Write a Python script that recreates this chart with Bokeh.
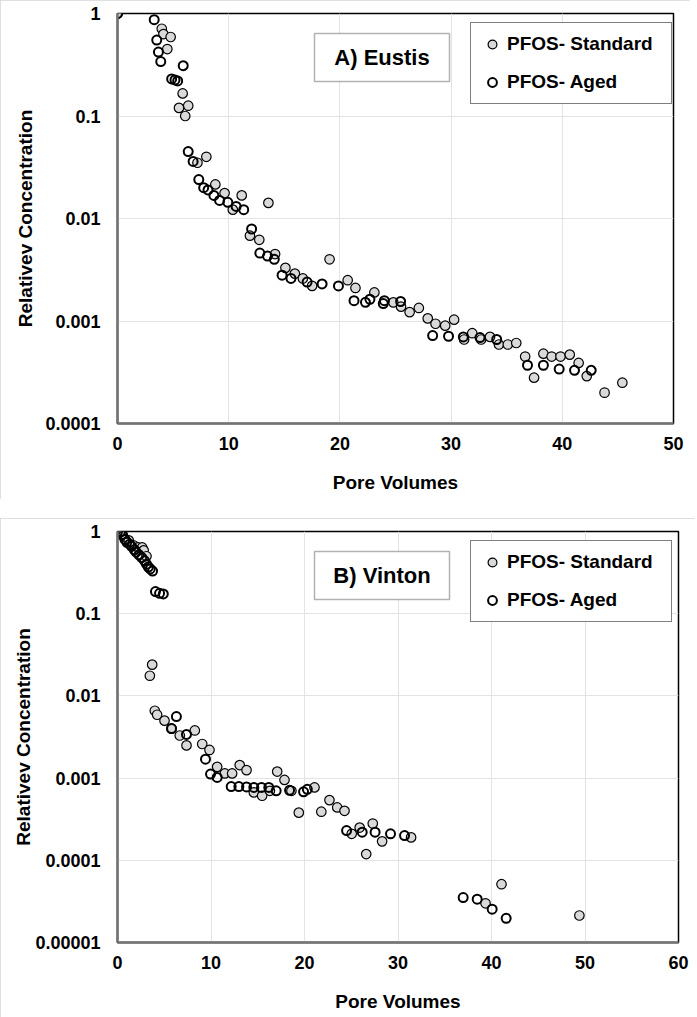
from bokeh.plotting import figure
from bokeh.layouts import column
from bokeh.models import (Range1d, FixedTicker, CustomJSTickFormatter, BoxAnnotation,
                          Label, Legend, LegendItem)
from bokeh.embed import file_html
from bokeh.resources import INLINE

# ---------------- data ----------------
# Panel A) Eustis
eustis_std_x = [0, 3.98, 4.13, 4.78, 4.48, 5.86, 6.36, 5.53, 6.09, 7.19, 7.99, 8.8, 9.63, 10.37,
                11.17, 13.57, 11.91, 12.75, 14.17, 15.1, 15.95, 16.67, 17.5, 19.07, 20.7, 21.4,
                23.1, 24.8, 25.5, 26.27, 27.1, 27.9, 28.6, 29.47, 30.27, 31.17, 31.9, 32.7, 33.5,
                34.3, 35.1, 35.86, 36.66, 37.46, 38.3, 39.04, 39.84, 40.67, 41.47, 42.2, 43.8, 45.4]
eustis_std_y = [1.0, 0.71, 0.63, 0.59, 0.45, 0.166, 0.126, 0.12, 0.10, 0.035, 0.040, 0.0215, 0.0177,
                0.0122, 0.0168, 0.0142, 0.0068, 0.0062, 0.0045, 0.0033, 0.0029, 0.0026, 0.0022,
                0.0040, 0.0025, 0.0021, 0.0019, 0.00152, 0.00138, 0.00122, 0.00134, 0.00106,
                0.00094, 0.0009, 0.00103, 0.00066, 0.00076, 0.00066, 0.0007, 0.00059, 0.00059,
                0.00061, 0.00045, 0.00028, 0.00048, 0.00045, 0.00045, 0.00047, 0.00039, 0.00029,
                0.0002, 0.00025]
eustis_aged_x = [0, 3.3, 3.53, 3.68, 3.89, 5.91, 4.87, 5.17, 5.41, 6.36, 6.8, 7.31, 7.75, 8.14,
                 8.67, 9.18, 9.92, 10.67, 11.35, 12.06, 12.8, 13.49, 14.1, 14.8, 15.6, 17.05, 18.4,
                 19.87, 21.27, 22.3, 22.7, 23.9, 24.0, 25.46, 28.34, 29.77, 31.1, 32.6, 34.1,
                 36.87, 38.3, 39.72, 41.1, 42.6]
eustis_aged_y = [1.0, 0.87, 0.55, 0.42, 0.34, 0.31, 0.23, 0.225, 0.22, 0.045, 0.036, 0.024, 0.020,
                 0.019, 0.0168, 0.015, 0.0144, 0.0131, 0.0122, 0.0079, 0.0046, 0.0043, 0.0040,
                 0.0028, 0.0026, 0.0024, 0.0023, 0.0022, 0.00158, 0.00152, 0.00163, 0.00148,
                 0.00158, 0.00155, 0.00072, 0.00071, 0.0007, 0.00069, 0.00066, 0.00037, 0.00037,
                 0.00034, 0.00033, 0.00033]

# Panel B) Vinton
vinton_std_x = [0, 0.6, 1.2, 1.7, 2.2, 2.64, 2.8, 3.1, 3.46, 3.71, 3.99, 4.24, 5.03, 5.78, 6.66,
                7.38, 8.27, 9.06, 9.84, 10.66, 11.48, 12.26, 13.07, 13.8, 14.58, 15.47, 16.3,
                17.08, 17.86, 18.6, 19.39, 21.07, 21.8, 22.67, 23.5, 24.28, 25.05, 25.9, 26.6,
                27.3, 28.3, 31.4, 39.36, 41.07, 49.4]
vinton_std_y = [1.0, 0.88, 0.78, 0.68, 0.64, 0.64, 0.59, 0.5, 0.0176, 0.024, 0.0066, 0.0059, 0.005,
                0.0040, 0.0033, 0.0025, 0.0038, 0.0026, 0.0022, 0.00137, 0.00114, 0.00114,
                0.00144, 0.00125, 0.00067, 0.00061, 0.0007, 0.0012, 0.00095, 0.0007, 0.00038,
                0.00077, 0.00039, 0.00054, 0.00044, 0.0004, 0.00021, 0.00025, 0.000119, 0.00028,
                0.00017, 0.00019, 0.00003, 0.0000512, 0.0000213]
vinton_aged_x = [0, 0.3, 0.5, 0.8, 1.0, 1.3, 1.5, 1.8, 2.0, 2.3, 2.6, 2.9, 3.1, 3.3, 3.5, 3.75,
                 4.06, 4.5, 4.9, 6.3, 5.78, 7.38, 9.41, 9.95, 10.66, 12.16, 12.98, 13.8, 14.58,
                 15.4, 16.18, 16.97, 18.4, 19.9, 20.3, 24.5, 26.17, 27.55, 29.2, 30.7, 36.97,
                 38.47, 40.07, 41.57]
vinton_aged_y = [1.0, 0.98, 0.92, 0.8, 0.74, 0.7, 0.66, 0.6, 0.56, 0.52, 0.48, 0.44, 0.4, 0.37,
                 0.35, 0.33, 0.186, 0.177, 0.174, 0.0056, 0.0040, 0.0034, 0.0017, 0.00112, 0.00102,
                 0.00079, 0.00079, 0.00078, 0.00077, 0.00077, 0.00077, 0.0007, 0.00071, 0.00068,
                 0.00073, 0.00023, 0.00022, 0.00022, 0.00021, 0.0002, 0.0000352, 0.0000337,
                 0.0000254, 0.0000197]

series_labels = ["PFOS- Standard", "PFOS- Aged"]
x_title = "Pore Volumes"
y_title = "Relativev Concentration"

eustis_x_ticks = [0, 10, 20, 30, 40, 50]
eustis_y_ticks = [0.0001, 0.001, 0.01, 0.1, 1]
eustis_y_labels = ["0.0001", "0.001", "0.01", "0.1", "1"]
vinton_x_ticks = [0, 10, 20, 30, 40, 50, 60]
vinton_y_ticks = [0.00001, 0.0001, 0.001, 0.01, 0.1, 1]
vinton_y_labels = ["0.00001", "0.0001", "0.001", "0.01", "0.1", "1"]

FONT = "Liberation Sans"


def make_panel(title, sx, sy, ax, ay, x_ticks, y_ticks, y_labels, width, height,
               border_right, border_bottom, axis_label_standoff_y):
    p = figure(width=width, height=height, output_backend="svg", toolbar_location=None,
               y_axis_type="log",
               x_range=Range1d(x_ticks[0], x_ticks[-1]),
               y_range=Range1d(y_ticks[0], y_ticks[-1]),
               min_border_left=117, min_border_right=border_right,
               min_border_top=13, min_border_bottom=border_bottom,
               styles={"outline": "1px solid #d4d4d4", "outline-offset": "-1px"})
    p.background_fill_color = "white"
    p.border_fill_color = "white"
    p.outline_line_color = "black"
    p.outline_line_width = 1.5

    xt = FixedTicker(ticks=x_ticks)
    yt = FixedTicker(ticks=y_ticks)
    p.xaxis.ticker = xt
    p.xgrid.ticker = xt
    p.yaxis.ticker = yt
    p.ygrid.ticker = yt
    p.yaxis.formatter = CustomJSTickFormatter(
        args=dict(tick_vals=y_ticks, tick_texts=y_labels),
        code="""
        for (let i = 0; i < tick_vals.length; i++) {
            if (Math.abs(Math.log10(tick_vals[i]) - Math.log10(tick)) < 1e-6) return tick_texts[i];
        }
        return "";
        """)
    for g in (p.xgrid, p.ygrid):
        g.grid_line_color = "#e3e3e3"
        g.grid_line_width = 1
    for ax_ in (p.xaxis, p.yaxis):
        ax_.axis_line_color = "#737373"
        ax_.axis_line_width = 2.5
        ax_.major_tick_out = 0
        ax_.major_tick_in = 0
        ax_.minor_tick_out = 0
        ax_.minor_tick_in = 0
        ax_.major_label_text_font = FONT
        ax_.major_label_text_font_size = "18px"
        ax_.major_label_text_font_style = "bold"
        ax_.major_label_text_color = "black"
        ax_.axis_label_text_font = FONT
        ax_.axis_label_text_font_size = "19px"
        ax_.axis_label_text_font_style = "bold"
        ax_.axis_label_text_color = "black"
    p.xaxis.axis_label = x_title
    p.yaxis.axis_label = y_title
    p.xaxis.major_label_standoff = 13
    p.xaxis.axis_label_standoff = 19
    p.yaxis.major_label_standoff = 17
    p.yaxis.axis_label_standoff = axis_label_standoff_y

    r_std = p.scatter(sx, sy, size=9.5, fill_color="#d9d9d9", line_color="black", line_width=1.2)
    r_aged = p.scatter(ax, ay, size=9, fill_color=None, line_color="black", line_width=2)

    frame_h = height - 13 - border_bottom
    # title box
    box_left, box_right = 197, 332
    box_top = frame_h - 20
    box_bottom = frame_h - 68
    p.add_layout(BoxAnnotation(left=box_left, right=box_right, top=box_top, bottom=box_bottom,
                               left_units="screen", right_units="screen",
                               top_units="screen", bottom_units="screen",
                               fill_color="white", fill_alpha=1.0,
                               line_color="black", line_width=1.5))
    p.add_layout(Label(x=(box_left + box_right) / 2, y=(box_top + box_bottom) / 2,
                       x_units="screen", y_units="screen", text=title,
                       text_align="center", text_baseline="middle",
                       text_font=FONT, text_font_size="22px", text_font_style="bold",
                       text_color="black"))

    legend = Legend(items=[LegendItem(label=series_labels[0], renderers=[r_std]),
                           LegendItem(label=series_labels[1], renderers=[r_aged])],
                    location=(353, frame_h - 10 - 81))
    legend.label_text_font = FONT
    legend.label_text_font_size = "19px"
    legend.label_text_font_style = "bold"
    legend.label_text_color = "black"
    legend.glyph_width = 22
    legend.glyph_height = 22
    legend.label_height = 22
    legend.label_width = 154
    legend.label_standoff = 4
    legend.spacing = 16
    legend.padding = 10
    legend.margin = 0
    legend.border_line_color = "black"
    legend.border_line_width = 1.5
    legend.background_fill_color = "white"
    legend.background_fill_alpha = 1.0
    p.add_layout(legend)
    return p


p1 = make_panel("A) Eustis", eustis_std_x, eustis_std_y, eustis_aged_x, eustis_aged_y,
                eustis_x_ticks, eustis_y_ticks, eustis_y_labels,
                width=690, height=499, border_right=12, border_bottom=76,
                axis_label_standoff_y=6)
p2 = make_panel("B) Vinton", vinton_std_x, vinton_std_y, vinton_aged_x, vinton_aged_y,
                vinton_x_ticks, vinton_y_ticks, vinton_y_labels,
                width=695, height=499, border_right=17, border_bottom=75,
                axis_label_standoff_y=-2)

layout = column(p1, p2, spacing=19)

open("out.html", "w").write(file_html(layout, INLINE))
